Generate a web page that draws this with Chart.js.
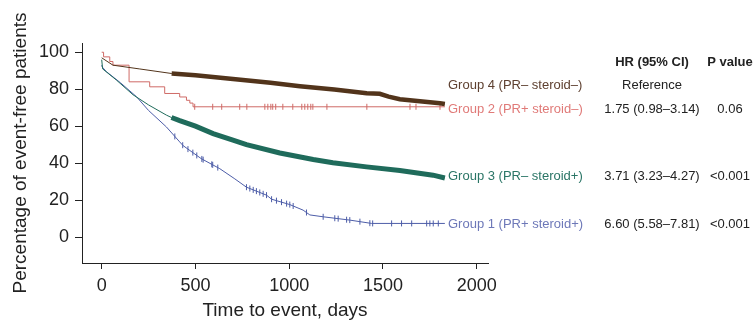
<!DOCTYPE html>
<html>
<head>
<meta charset="utf-8">
<script src="https://cdn.jsdelivr.net/npm/chart.js@4/dist/chart.umd.min.js"></script>
<style>
  html, body { margin: 0; padding: 0; background: #fff; }
  #wrap { width: 753px; height: 321px; }
</style>
</head>
<body>
<div id="wrap"><canvas id="kmChart" width="753" height="321"></canvas></div>
<script>
// --- data (days, % event-free) ---
const xTicks = [0, 500, 1000, 1500, 2000];
const yTicks = [0, 20, 40, 60, 80, 100];

const group4Days = [0, 60, 200, 373, 500, 700, 900, 1057, 1240, 1413, 1483, 1530, 1590, 1697, 1804, 1830];
const group4Pct  = [97, 93, 91, 88.5, 87.5, 85.5, 83.5, 81.6, 79.8, 77.8, 77.5, 76, 74.6, 73.5, 72.4, 72];

const group2Days = [0, 10, 43, 60, 146, 256, 336, 416, 452, 470, 487, 1830];
const group2Pct  = [100, 97.5, 95, 93, 84, 81.3, 77.7, 75.8, 74, 72.5, 70.5, 70.5];
const group2Censor = [496, 592, 640, 736, 774, 870, 886, 902, 912, 928, 966, 1019, 1067, 1083, 1099, 1115, 1126, 1201, 1414, 1644, 1676, 1804];

const group3Days = [0, 5, 78, 167, 250, 345, 372, 416, 500, 594, 700, 772, 950, 1128, 1233, 1412, 1590, 1767, 1830];
const group3Pct  = [96, 91, 85, 77, 71.5, 66, 64.7, 63, 60, 56, 52.5, 50, 45.5, 42, 40.2, 38, 36, 33.5, 32];

const group1Days = [0, 3, 25, 100, 185, 250, 345, 416, 434, 530, 630, 710, 772, 879, 906, 1003, 1074, 1110, 1181, 1323, 1439, 1830];
const group1Pct  = [93, 92, 89.5, 83.5, 76, 68.5, 59.6, 51.5, 49.5, 42.5, 37, 31.5, 27, 22.7, 20.5, 17.6, 14.6, 12, 11, 9.2, 7.4, 7.4];
const group1Censor = [390, 432, 460, 486, 507, 534, 541, 587, 592, 619, 772, 790, 808, 825, 843, 861, 879, 906, 932, 959, 986, 1003, 1021, 1092, 1181, 1243, 1261, 1306, 1323, 1377, 1430, 1445, 1546, 1599, 1653, 1733, 1750, 1768, 1795];

// heavily censored stretch (drawn as a thick band)
const bandStart = 372;

const groupLabels = ['Group 4 (PR\u2013 steroid\u2013)', 'Group 2 (PR+ steroid\u2013)', 'Group 3 (PR\u2013 steroid+)', 'Group 1 (PR+ steroid+)'];
const hrLabels = ['Reference', '1.75 (0.98\u20133.14)', '3.71 (3.23\u20134.27)', '6.60 (5.58\u20137.81)'];
const pLabels = ['', '0.06', '<0.001', '<0.001'];

const COLORS = {
    g4: '#52341b',
    g2: '#cf6a66',
    g3: '#1f6b5b',
    g1: '#4d5da8'
};
const TEXT_COLORS = ['#5e4030', '#e07a78', '#2a7566', '#6d78b8'];
const FONT = '"Liberation Sans", Arial, Helvetica, sans-serif';

// --- helpers ---
const toPoints = (days, pct) => days.map((d, i) => ({ x: d, y: pct[i] }));

// value of a step curve at time t (Kaplan-Meier style)
function stepValue(days, pct, t) {
    let v = pct[0];
    for (let i = 0; i < days.length; i++) {
        if (days[i] <= t) v = pct[i];
    }
    return v;
}

// value on the drawn polyline at time t
function lineValue(days, pct, t) {
    for (let i = 1; i < days.length; i++) {
        if (t <= days[i]) {
            const f = (t - days[i - 1]) / (days[i] - days[i - 1]);
            return pct[i - 1] + f * (pct[i] - pct[i - 1]);
        }
    }
    return pct[pct.length - 1];
}

const bandPoints = (days, pct) => toPoints(days, pct).filter(p => p.x >= bandStart);

function lineSet(data, color, width, stepped) {
    return {
        type: 'line',
        data: data,
        borderColor: color,
        borderWidth: width,
        pointRadius: 0,
        fill: false,
        tension: 0,
        stepped: stepped || false,
        borderCapStyle: 'butt'
    };
}

function censorSet(data, color) {
    return {
        type: 'scatter',
        data: data,
        borderColor: color,
        backgroundColor: color,
        pointStyle: 'line',
        rotation: 90,
        pointRadius: 3,
        pointBorderWidth: 1,
        pointHoverRadius: 3
    };
}

// --- text to the right of the plot ---
const sideTextPlugin = {
    id: 'sideText',
    afterDraw(chart) {
        const ctx = chart.ctx;
        const rowsY = [85, 109, 176, 224];
        ctx.save();
        ctx.textBaseline = 'middle';
        ctx.font = 'bold 13px ' + FONT;
        ctx.fillStyle = '#222';
        ctx.textAlign = 'center';
        ctx.fillText('HR (95% CI)', 652, 62);
        ctx.fillText('P value', 730, 62);

        ctx.font = '13px ' + FONT;
        rowsY.forEach((y, i) => {
            ctx.textAlign = 'left';
            ctx.fillStyle = TEXT_COLORS[i];
            ctx.fillText(groupLabels[i], 448, y);
            ctx.textAlign = 'center';
            ctx.fillStyle = '#222';
            ctx.fillText(hrLabels[i], 652, y);
            if (pLabels[i]) ctx.fillText(pLabels[i], 730, y);
        });
        ctx.restore();
    }
};

function renderChart() {
    const ctx = document.getElementById('kmChart').getContext('2d');

    new Chart(ctx, {
        data: {
            datasets: [
                lineSet(toPoints(group4Days, group4Pct), COLORS.g4, 1),
                lineSet(bandPoints(group4Days, group4Pct), COLORS.g4, 4.5),
                lineSet(toPoints(group2Days, group2Pct), COLORS.g2, 1, 'before'),
                censorSet(group2Censor.map(d => ({ x: d, y: stepValue(group2Days, group2Pct, d) })), COLORS.g2),
                lineSet(toPoints(group3Days, group3Pct), COLORS.g3, 1),
                lineSet(bandPoints(group3Days, group3Pct), COLORS.g3, 5),
                lineSet(toPoints(group1Days, group1Pct), COLORS.g1, 1),
                censorSet(group1Censor.map(d => ({ x: d, y: lineValue(group1Days, group1Pct, d) })), COLORS.g1)
            ]
        },
        options: {
            responsive: false,
            animation: false,
            events: [],
            layout: { padding: { top: 43, right: 265, left: 0, bottom: 0 } },
            plugins: {
                legend: { display: false },
                tooltip: { enabled: false }
            },
            scales: {
                x: {
                    type: 'linear',
                    min: -105,
                    max: 2060,
                    afterBuildTicks: axis => { axis.ticks = xTicks.map(v => ({ value: v })); },
                    afterFit: axis => { axis.height = 58; },
                    grid: { drawOnChartArea: false, color: '#222', tickLength: 6, tickWidth: 1 },
                    border: { color: '#222', width: 1 },
                    ticks: {
                        color: '#222',
                        font: { family: FONT, size: 18 },
                        padding: 6,
                        maxRotation: 0,
                        callback: v => String(v)
                    },
                    title: { display: true, text: 'Time to event, days', color: '#222', font: { family: FONT, size: 19 }, padding: { top: 0, bottom: -1 } }
                },
                y: {
                    type: 'linear',
                    min: -14,
                    max: 105,
                    afterBuildTicks: axis => { axis.ticks = yTicks.map(v => ({ value: v })); },
                    afterFit: axis => { axis.width = 82; },
                    grid: { drawOnChartArea: false, color: '#222', tickLength: 7, tickWidth: 1 },
                    border: { color: '#222', width: 1 },
                    ticks: { color: '#222', font: { family: FONT, size: 18 }, padding: 6, callback: v => String(v) },
                    title: { display: true, text: 'Percentage of event-free patients', color: '#222', font: { family: FONT, size: 19 }, padding: { top: 9, bottom: 0 } }
                }
            }
        },
        plugins: [sideTextPlugin]
    });
}

document.addEventListener('DOMContentLoaded', renderChart);
</script>
</body>
</html>
